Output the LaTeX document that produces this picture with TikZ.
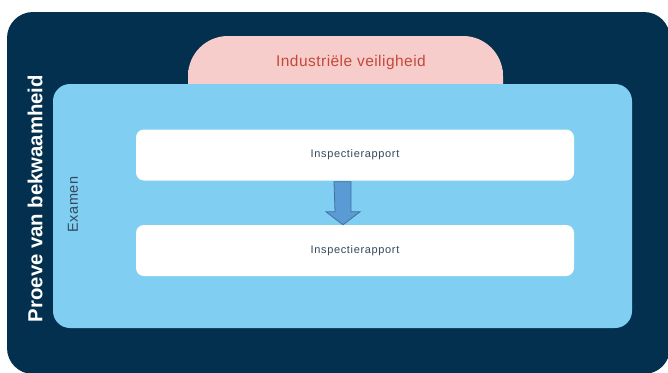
\documentclass[tikz,border=0pt]{standalone}
\usepackage{fontspec}
\setmainfont{Liberation Sans}
\usepackage{tikz}
\usetikzlibrary{calc}
\usetikzlibrary{positioning}
\definecolor{navy}{RGB}{3,48,78}
\definecolor{skyblue}{RGB}{128,207,243}
\definecolor{rosepink}{RGB}{246,205,202}
\definecolor{brickred}{RGB}{196,72,58}
\definecolor{arrowblue}{RGB}{91,155,213}
\definecolor{arrowedge}{RGB}{65,113,156}
\definecolor{slatetext}{RGB}{52,72,92}

\tikzset{
	reportbox/.style={fill=white, rounded corners=8pt, minimum width=438pt, minimum height=51pt, inner sep=0pt, font=\fontsize{11}{13}\selectfont\addfontfeature{LetterSpace=6}, text=slatetext},
}

\begin{document}
\begin{tikzpicture}[x=1pt,y=-1pt]
	
	\useasboundingbox (0,0) rectangle (668,372);
	
	% outer dark frame
	\fill[navy, rounded corners=26pt] (7,12) rectangle (670,374);
	\node[rotate=90, text=white, font=\bfseries\fontsize{20.3}{23}\selectfont] (proeve) at (35,198.5) {Proeve van bekwaamheid};
	
	% pink tab behind the exam box
	\fill[rosepink, rounded corners=40pt] (188,100) -- (188,36) -- (503,36) -- (503,100);
	\fill[rosepink] (188,70) rectangle (503,100);
	\node[text=brickred, font=\fontsize{15.5}{18}\selectfont\addfontfeature{LetterSpace=3}] (industrie) at (351,62) {Industriële veiligheid};
	
	% exam box
	\fill[skyblue, rounded corners=17pt] (53,84) rectangle (632,328);
	\node[rotate=90, text=slatetext, font=\fontsize{14.5}{17}\selectfont\addfontfeature{LetterSpace=4}] (examen) at (73,204.5) {Examen};
	
	\node[reportbox] (rapport1) at (355,155) {Inspectierapport};
	\node[reportbox] (rapport2) at (355,250.5) {Inspectierapport};
	
	% block arrow between the two reports
	\draw[fill=arrowblue, draw=arrowedge, line width=0.8pt]
		($(rapport1.south)+(-21,1)$) -- ($(rapport1.south)+(-4,1)$) -- ($(rapport2.north)+(-4,-13)$) -- ($(rapport2.north)+(5,-13)$)
		-- ($(rapport2.north)+(-12,0)$) -- ($(rapport2.north)+(-29,-13)$) -- ($(rapport2.north)+(-20,-13)$) -- cycle;
	
\end{tikzpicture}
\end{document}
